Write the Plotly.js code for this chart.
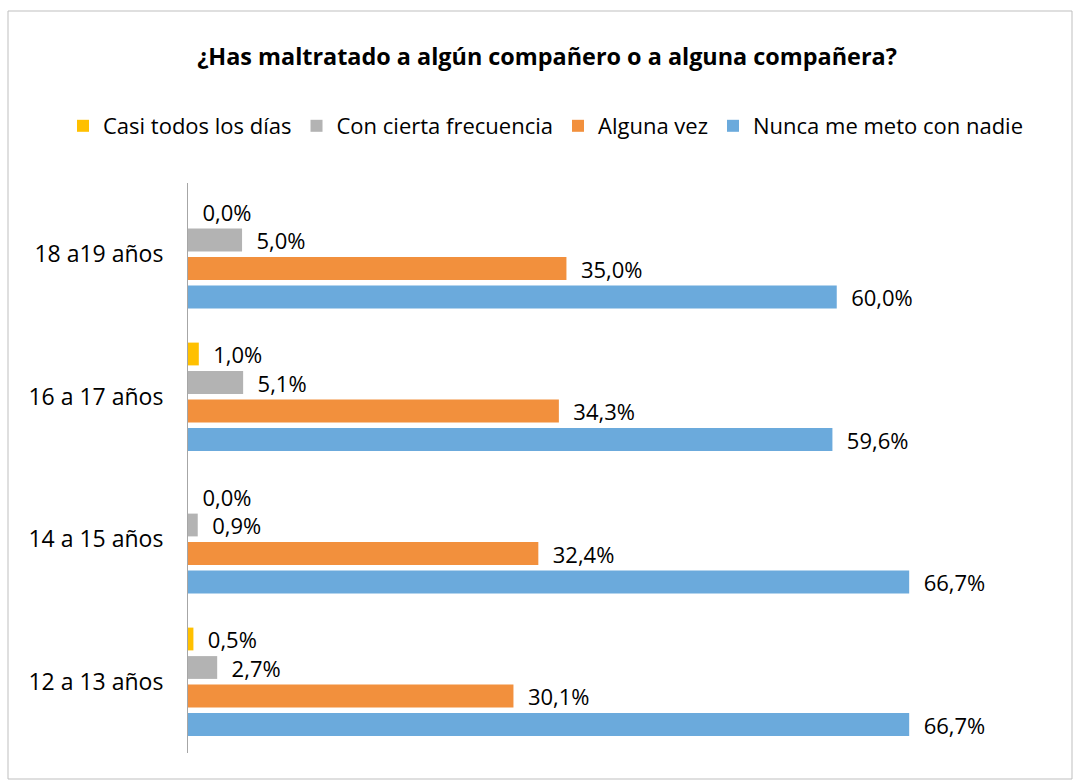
<!DOCTYPE html>
<html>
<head>
<meta charset="utf-8">
<script src="https://cdn.plot.ly/plotly-3.0.1.min.js"></script>
<style>html,body{margin:0;padding:0;background:#fff;}#chart{width:1074px;height:780px;}</style>
</head>
<body>
<div id="chart"></div>
<script>
const categories = ["12 a 13 años", "14 a 15 años", "16 a 17 años", "18 a19 años"];
const seriesNames = ["Casi todos los días", "Con cierta frecuencia", "Alguna vez", "Nunca me meto con nadie"];
const casiTodos = [0.005, 0.000, 0.010, 0.000];
const conCierta = [0.027, 0.009, 0.051, 0.050];
const algunaVez = [0.301, 0.324, 0.343, 0.350];
const nunca = [0.667, 0.667, 0.596, 0.600];
const colors = ["#FFC000", "#B3B3B3", "#F2903D", "#6BAADC"];

const FONT = "'Open Sans', 'Liberation Sans', sans-serif";
const seriesValues = [casiTodos, conCierta, algunaVez, nunca];

// Plot order: bottom of group first (Nunca), top last (Casi todos)
const traces = [];
for (let i = seriesValues.length - 1; i >= 0; i--) {
  traces.push({
    type: "bar",
    orientation: "h",
    name: seriesNames[i],
    y: categories,
    x: seriesValues[i],
    marker: {color: colors[i]},
    texttemplate: "\u00a0\u00a0%{x:.1%}",
    textposition: "outside",
    constraintext: "none",
    textfont: {family: FONT, size: 22, color: "#000"},
    cliponaxis: false,
    hoverinfo: "x+name"
  });
}

const layout = {
  width: 1074,
  height: 780,
  separators: ",.",
  paper_bgcolor: "#fff",
  plot_bgcolor: "#fff",
  font: {family: FONT, color: "#000", size: 22},
  margin: {l: 188, r: 21, t: 183, b: 27},
  barmode: "group",
  bargap: 0.2,
  bargroupgap: 0.2,
  title: {
    text: "<b>¿Has maltratado a algún compañero o a alguna compañera?</b>",
    font: {family: FONT, size: 23.4, color: "#000"},
    x: 547/1074, xref: "container", xanchor: "center",
    y: 1 - 57/780, yref: "container", yanchor: "middle"
  },
  legend: {
    orientation: "h",
    traceorder: "reversed",
    x: (63 - 188) / 865, xref: "paper", xanchor: "left",
    y: 1 + (183 - 126) / 570, yref: "paper", yanchor: "middle",
    font: {family: FONT, size: 22, color: "#000"},
    itemwidth: 30
  },
  xaxis: {
    range: [0, 0.8],
    showgrid: false, zeroline: false, showline: false,
    showticklabels: false, ticks: ""
  },
  yaxis: {
    type: "category",
    categoryorder: "array",
    categoryarray: categories,
    showline: true, linecolor: "#A6A6A6", linewidth: 1,
    showgrid: false, zeroline: false,
    ticks: "",
    ticklabelstandoff: 19,
    tickfont: {family: FONT, size: 23, color: "#000"}
  },
  shapes: [{
    type: "rect", xref: "paper", yref: "paper",
    x0: -180/865, x1: 1 + 19/865, y0: -26/570, y1: 1 + 172/570,
    line: {color: "#BFBFBF", width: 1}, fillcolor: "rgba(0,0,0,0)"
  }],
  showlegend: true
};

Plotly.newPlot("chart", traces, layout, {displayModeBar: false, staticPlot: true});
</script>
</body>
</html>
